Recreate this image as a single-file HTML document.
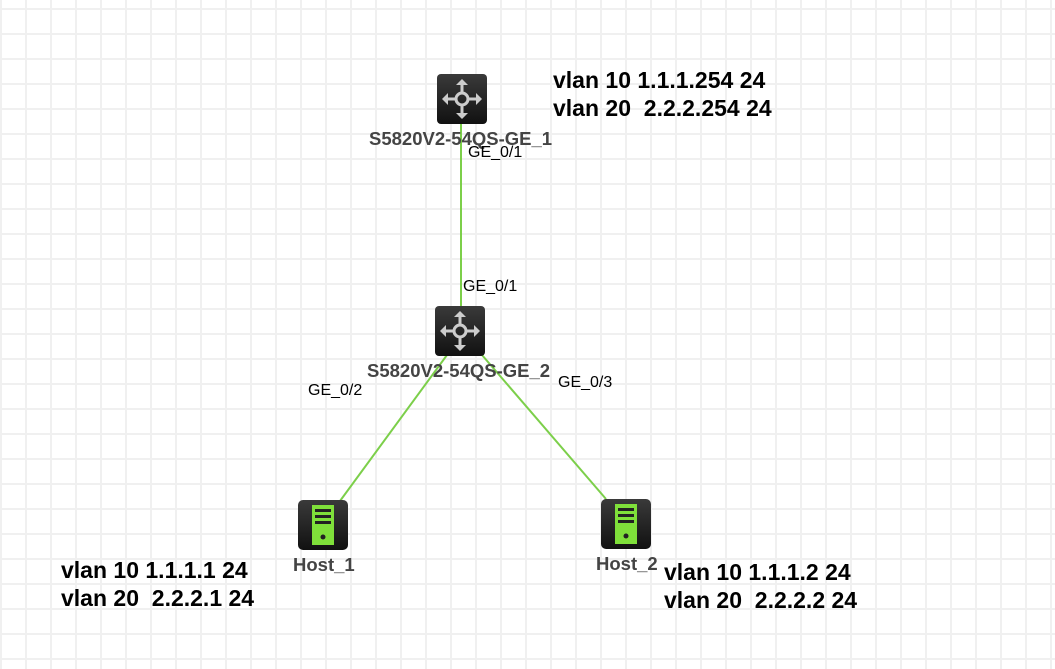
<!DOCTYPE html><html><head><style>
body{margin:0;width:1055px;height:669px;overflow:hidden;background:#fff;
background-image:linear-gradient(#f0f0f0 2px,transparent 2px),linear-gradient(90deg,#f0f0f0 2px,transparent 2px);
background-size:25px 25px;background-position:0 8px,0 0;font-family:"Liberation Sans",sans-serif;position:relative}
.t{position:absolute;white-space:nowrap}
.b{font-weight:bold;font-size:23px;color:#000;line-height:28px}
.n{font-weight:bold;font-size:18.5px;color:#444;line-height:18px}
.p{font-size:16px;color:#000}
</style></head><body>
<svg width="1055" height="669" style="position:absolute;left:0;top:0">
<defs>
<linearGradient id="g" x1="0" y1="0" x2="0" y2="1"><stop offset="0" stop-color="#3a3a3a"/><stop offset="1" stop-color="#111"/></linearGradient>
<g id="sw"><rect width="50" height="50" rx="4" fill="url(#g)"/>
<g stroke="#ccc" stroke-width="3" fill="none"><circle cx="25" cy="25" r="6"/><path d="M25 8V19M25 31V42M8 25H19M31 25H42"/></g>
<g fill="#ccc"><path d="M25 5l-6 6h12z"/><path d="M25 45l-6-6h12z"/><path d="M5 25l6-6v12z"/><path d="M45 25l-6-6v12z"/></g></g>
<g id="h"><rect width="50" height="50" rx="5" fill="url(#g)"/><rect x="14" y="5" width="22" height="40" fill="#7fe03a"/>
<g fill="#222"><rect x="17" y="9" width="16" height="3"/><rect x="17" y="15" width="16" height="3"/><rect x="17" y="21" width="16" height="3"/><circle cx="25" cy="37" r="2.5"/></g></g>
</defs>
<g stroke="#7ccf4a" stroke-width="2"><line x1="461" y1="124" x2="461" y2="306"/><line x1="447" y1="355" x2="340" y2="501"/><line x1="482" y1="355" x2="606" y2="499"/></g>
<use href="#sw" x="437" y="74"/><use href="#sw" x="435" y="306"/>
<use href="#h" x="298" y="500"/><use href="#h" x="601" y="499"/>
</svg>
<div class="t n" style="left:369px;top:130px">S5820V2-54QS-GE_1</div>
<div class="t n" style="left:367px;top:362px">S5820V2-54QS-GE_2</div>
<div class="t n" style="left:293px;top:556px">Host_1</div>
<div class="t n" style="left:596px;top:555px">Host_2</div>
<div class="t p" style="left:468px;top:144px">GE_0/1</div>
<div class="t p" style="left:463px;top:278px">GE_0/1</div>
<div class="t p" style="left:308px;top:382px">GE_0/2</div>
<div class="t p" style="left:558px;top:374px">GE_0/3</div>
<div class="t b" style="left:553px;top:66px">vlan 10 1.1.1.254 24<br>vlan 20&nbsp; 2.2.2.254 24</div>
<div class="t b" style="left:61px;top:556px">vlan 10 1.1.1.1 24<br>vlan 20&nbsp; 2.2.2.1 24</div>
<div class="t b" style="left:664px;top:558px">vlan 10 1.1.1.2 24<br>vlan 20&nbsp; 2.2.2.2 24</div>
</body></html>
